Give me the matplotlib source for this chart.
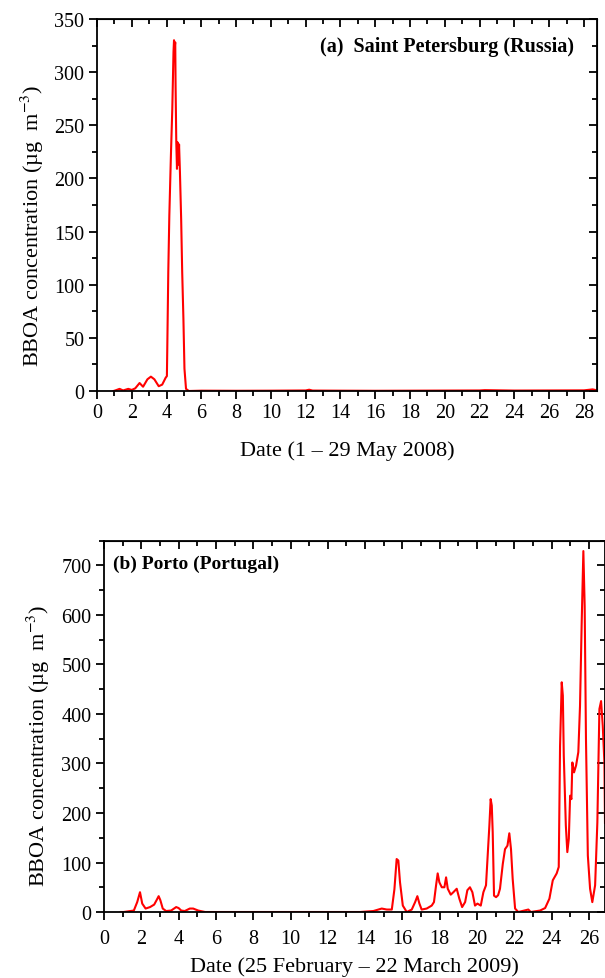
import matplotlib
matplotlib.use("Agg")
import matplotlib.pyplot as plt
from matplotlib.ticker import MultipleLocator

plt.rcParams['font.family'] = ['Liberation Serif', 'DejaVu Serif']
plt.rcParams['mathtext.fontset'] = 'stix'

# (a) Saint Petersburg, 1-29 May 2008
spb_day = [0.95, 1.05, 1.3, 1.5, 1.8, 2.0, 2.2, 2.45, 2.65, 2.9, 3.1, 3.3, 3.55, 3.75, 3.95,
           4.02, 4.04, 4.1, 4.16, 4.25, 4.33, 4.4, 4.43, 4.46, 4.5, 4.52, 4.56, 4.6, 4.63,
           4.68, 4.72, 4.77, 4.84, 4.9, 4.97, 5.03, 5.12, 5.28, 6.0, 8.0, 10.0, 12.0, 12.2,
           12.4, 14.0, 16.0, 18.0, 20.0, 22.0, 22.3, 24.0, 26.0, 28.0, 28.5, 28.7]
spb_bboa = [0, 0.5, 2, 0.5, 2, 1, 2.5, 7.5, 4, 11, 13.5, 11, 4.5, 6, 12.5,
            14, 37, 112, 165, 221, 265, 319, 330, 322, 328, 287, 234, 209, 234,
            213, 232, 206, 162, 112, 68, 21, 2, 0, 0.3, 0.2, 0.3, 0.5, 1.2,
            0.4, 0.3, 0.2, 0.3, 0.4, 0.5, 0.8, 0.4, 0.5, 0.6, 1.5, 0.8]

# (b) Porto, 25 February - 22 March 2009
porto_day = [0.9, 1.05, 1.6, 1.78, 1.93, 2.05, 2.23, 2.47, 2.69, 2.82, 2.93, 3.02, 3.15, 3.33,
             3.6, 3.87, 4.0, 4.14, 4.33, 4.6, 4.78, 5.05, 5.42, 8.0, 11.0, 13.73, 14.44,
             14.89, 15.16, 15.43, 15.57, 15.69, 15.78, 15.87, 16.02, 16.23, 16.5, 16.68,
             16.8, 16.91, 17.03, 17.3, 17.57, 17.69, 17.8, 17.89, 17.98, 18.11, 18.25,
             18.34, 18.43, 18.59, 18.73, 18.91, 19.05, 19.2, 19.36, 19.48, 19.62, 19.75,
             19.89, 20.02, 20.2, 20.34, 20.48, 20.57, 20.66, 20.73, 20.79, 20.84, 20.91,
             21.02, 21.13, 21.23, 21.38, 21.5, 21.63, 21.73, 21.82, 21.91, 22.04, 22.21,
             22.75, 22.88, 23.38, 23.65, 23.88, 24.06, 24.27, 24.38, 24.45, 24.54, 24.6,
             24.65, 24.76, 24.84, 24.92, 24.99, 25.06, 25.11, 25.2, 25.31, 25.43, 25.52,
             25.61, 25.7, 25.77, 25.84, 25.94, 26.06, 26.18, 26.33, 26.45, 26.56, 26.65,
             26.74, 26.83, 26.86]
porto_bboa = [0, 0, 3, 20, 40, 17, 7, 10, 15, 24, 32, 24, 7, 2,
              3, 10, 8, 3, 2, 7, 7, 3, 0, 0, 0, 0, 2,
              7, 5, 5, 46, 107, 104, 60, 13, 0, 5, 20,
              32, 17, 5, 7, 13, 20, 53, 78, 60, 50, 50,
              70, 47, 35, 40, 47, 27, 10, 20, 44, 50, 40,
              13, 17, 13, 40, 54, 114, 174, 228, 215, 161, 33,
              30, 34, 47, 97, 127, 134, 159, 127, 67, 7, 0,
              5, 0, 3, 8, 27, 64, 78, 91, 335, 464, 437,
              316, 175, 121, 148, 235, 228, 302, 282, 296, 323, 416,
              584, 729, 618, 349, 114, 47, 20, 54, 181, 410, 426,
              376, 300, 180]


# мітки осей з подвійними рисками: зовні знизу/зліва, всередину зверху/справа
def style_axes(ax, xmajor, ymajor, xpad):
    ax.xaxis.set_major_locator(MultipleLocator(xmajor))
    ax.xaxis.set_minor_locator(MultipleLocator(xmajor / 2))
    ax.yaxis.set_major_locator(MultipleLocator(ymajor))
    ax.yaxis.set_minor_locator(MultipleLocator(ymajor / 2))
    ax.tick_params(which='major', direction='out', length=6, width=1.3, labelsize=14.5, pad=3)
    ax.tick_params(axis='x', which='major', pad=xpad)
    ax.tick_params(which='minor', direction='out', length=3.5, width=1.3)
    for s in ax.spines.values():
        s.set_linewidth(1.3)
    top = ax.secondary_xaxis('top')
    top.xaxis.set_major_locator(MultipleLocator(xmajor))
    top.xaxis.set_minor_locator(MultipleLocator(xmajor / 2))
    top.tick_params(which='both', direction='in', labeltop=False, width=1.3)
    top.tick_params(which='major', length=6)
    top.tick_params(which='minor', length=3.5)
    right = ax.secondary_yaxis('right')
    right.yaxis.set_major_locator(MultipleLocator(ymajor))
    right.yaxis.set_minor_locator(MultipleLocator(ymajor / 2))
    right.tick_params(which='both', direction='in', labelright=False, width=1.3)
    right.tick_params(which='major', length=6)
    right.tick_params(which='minor', length=3.5)


fig = plt.figure(figsize=(6.05, 9.79), dpi=100)

ylabel = 'BBOA concentration (µg  m$^{-3}$)'

ax1 = fig.add_axes([0.1603, 0.5996, 0.8264, 0.38])
ax1.plot(spb_day, spb_bboa, color='red', linewidth=1.5)
ax1.set_xlim(0, 28.75)
ax1.set_ylim(0, 350)
style_axes(ax1, 2, 50, 3)
ax1.set_xlabel('Date (1 – 29 May 2008)', fontsize=16, labelpad=13)
ax1.set_ylabel(ylabel, fontsize=16)
ax1.yaxis.set_label_coords(-0.101, 0.446)
ax1.text(0.955, 0.928, '(a)  Saint Petersburg (Russia)', transform=ax1.transAxes,
         ha='right', va='center', fontsize=14.5, fontweight='bold')

ax2 = fig.add_axes([0.1719, 0.0674, 0.8281, 0.3793])
ax2.plot(porto_day, porto_bboa, color='red', linewidth=1.5)
ax2.set_xlim(0, 26.86)
ax2.set_ylim(0, 750)
style_axes(ax2, 2, 100, 6)
ax2.set_xlabel('Date (25 February – 22 March 2009)', fontsize=16, labelpad=6)
ax2.set_ylabel(ylabel, fontsize=16)
ax2.yaxis.set_label_coords(-0.104, 0.45)
ax2.text(0.018, 0.94, '(b) Porto (Portugal)', transform=ax2.transAxes,
         ha='left', va='center', fontsize=14, fontweight='bold')

fig.savefig('out.png', dpi=100)
